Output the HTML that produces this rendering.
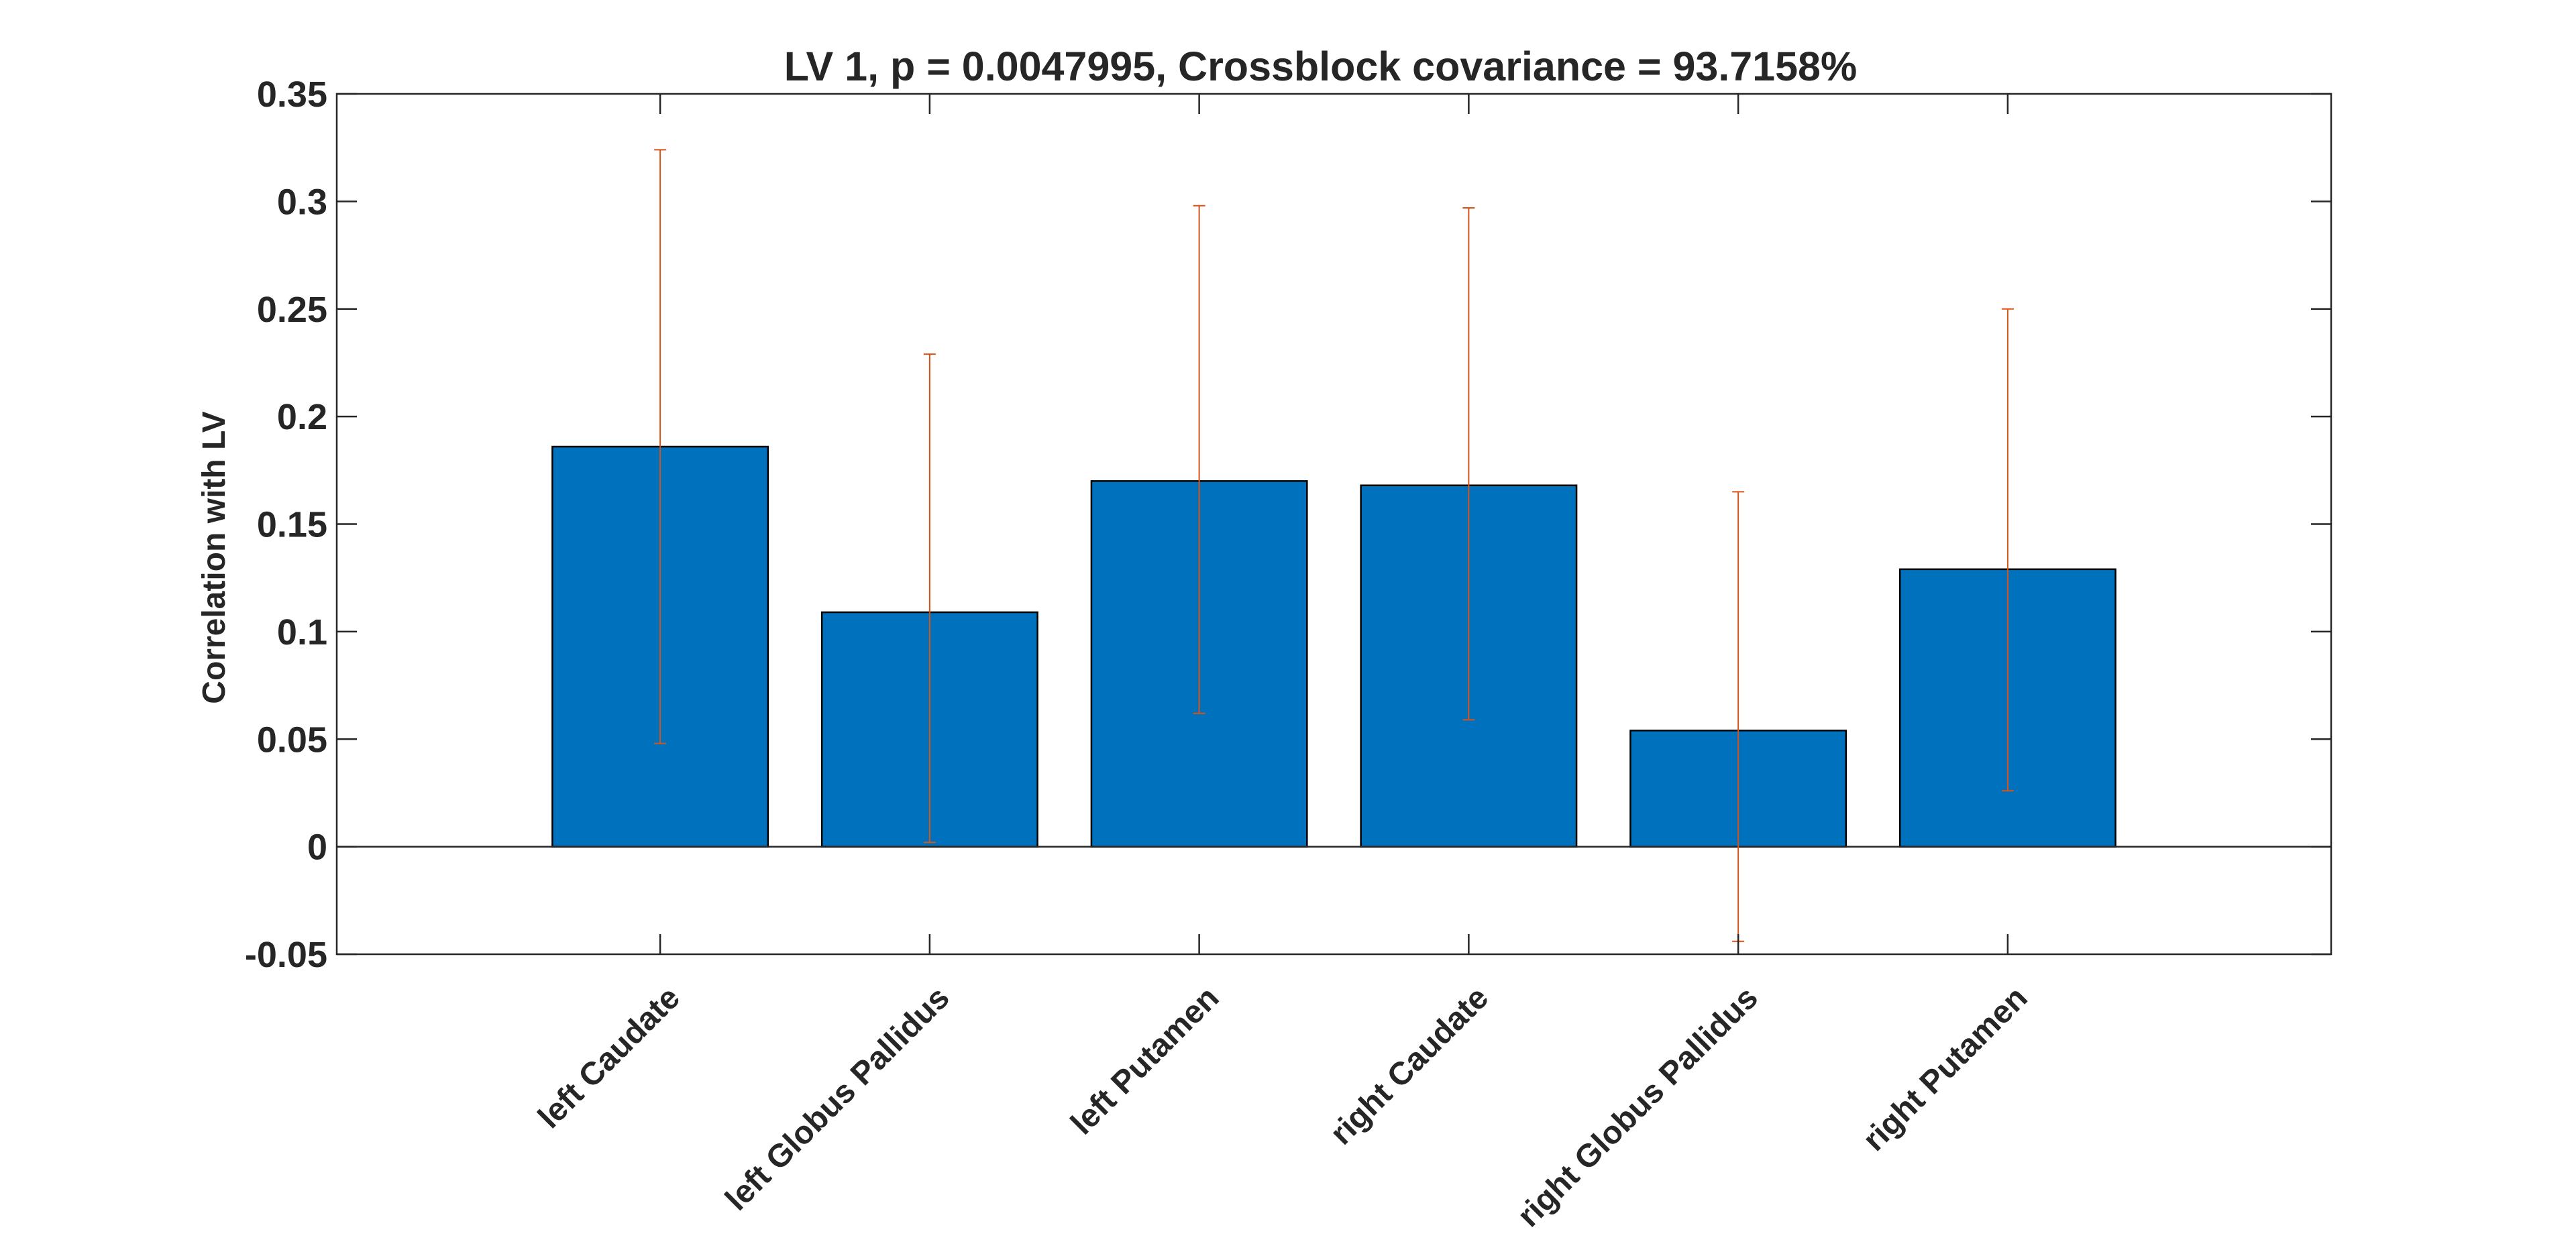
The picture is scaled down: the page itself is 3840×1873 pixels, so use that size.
<!DOCTYPE html>
<html><head><meta charset="utf-8"><style>
html,body{margin:0;padding:0;background:#fff;}
svg text{font-family:"Liberation Sans",Arial,sans-serif;font-weight:bold;fill:#262626;}
</style></head><body>
<svg id="chart" width="3840" height="1868" viewBox="0 0 3840 1868" xmlns="http://www.w3.org/2000/svg">
<rect width="3840" height="1868" fill="#fff"/>
<g id="plot"></g>
</svg>
<script>
const categories = ["left Caudate","left Globus Pallidus","left Putamen","right Caudate","right Globus Pallidus","right Putamen"];
const values = [0.186, 0.109, 0.170, 0.168, 0.054, 0.129];
const errUpper = [0.324, 0.229, 0.298, 0.297, 0.165, 0.250];
const errLower = [0.048, 0.002, 0.062, 0.059, -0.044, 0.026];
const yTicks = [-0.05, 0, 0.05, 0.1, 0.15, 0.2, 0.25, 0.3, 0.35];
const yTickLabels = ["-0.05","0","0.05","0.1","0.15","0.2","0.25","0.3","0.35"];

const NS = "http://www.w3.org/2000/svg";
const L = 502, R = 3475, T = 140, B = 1423;
const xMin = -0.2, xMax = 7.2, yMin = -0.05, yMax = 0.35;
function xs(i){ return L + (i + 1 - xMin) / (xMax - xMin) * (R - L); }
function ys(v){ return B - (v - yMin) / (yMax - yMin) * (B - T); }
const g = document.getElementById('plot');
function el(tag, attrs){ const e = document.createElementNS(NS, tag); for (const k in attrs) e.setAttribute(k, attrs[k]); g.appendChild(e); return e; }
const bw = 0.8 / (xMax - xMin) * (R - L);

values.forEach((v, i) => {
  const y0 = ys(0), y1 = ys(v);
  const r = el('rect', {x: xs(i) - bw/2, y: Math.min(y0,y1), width: bw, height: Math.abs(y0-y1), fill: '#0072BD', stroke: '#000', 'stroke-width': 2.5});
  
  
});
const bl = el('line', {x1: L, x2: R, y1: ys(0), y2: ys(0), stroke: '#262626', 'stroke-width': 2.5});


errUpper.forEach((u, i) => {
  const x = xs(i), lo = errLower[i];
  const e = el('path', {d: `M${x},${ys(u)}V${ys(lo)}M${x-9},${ys(u)}H${x+9}M${x-9},${ys(lo)}H${x+9}`, stroke: '#D95319', 'stroke-width': 2, fill: 'none'});
  
  
});
const box = el('rect', {x: L, y: T, width: R-L, height: B-T, fill: 'none', stroke: '#262626', 'stroke-width': 2.5});


yTicks.forEach((v, i) => {
  const y = ys(v);
  const t = el('path', {d: `M${L},${y}h30M${R},${y}h-30`, stroke: '#262626', 'stroke-width': 2.5});
  
  
  const tx = el('text', {x: L - 14, y: y + 19, 'text-anchor': 'end', 'font-size': 54});
  tx.textContent = yTickLabels[i];
  
  
});
categories.forEach((c, i) => {
  const x = xs(i);
  const t = el('path', {d: `M${x},${B}v-30M${x},${T}v30`, stroke: '#262626', 'stroke-width': 2.5});
  
  
  const tx = el('text', {x: 0, y: 0, 'text-anchor': 'end', 'font-size': 48, transform: `translate(${x+32},${B+68}) rotate(-45)`});
  tx.textContent = c;
  
  
});
const title = el('text', {x: (L+R)/2 - 20, y: 120, 'text-anchor': 'middle', 'font-size': 61, fill: '#000'});
title.textContent = 'LV 1, p = 0.0047995, Crossblock covariance = 93.7158%';


const yl = el('text', {x: 0, y: 0, 'text-anchor': 'middle', 'font-size': 48, transform: `translate(335,${(T+B)/2 + 50}) rotate(-90)`});
yl.textContent = 'Correlation with LV';


</script>
</body></html>
